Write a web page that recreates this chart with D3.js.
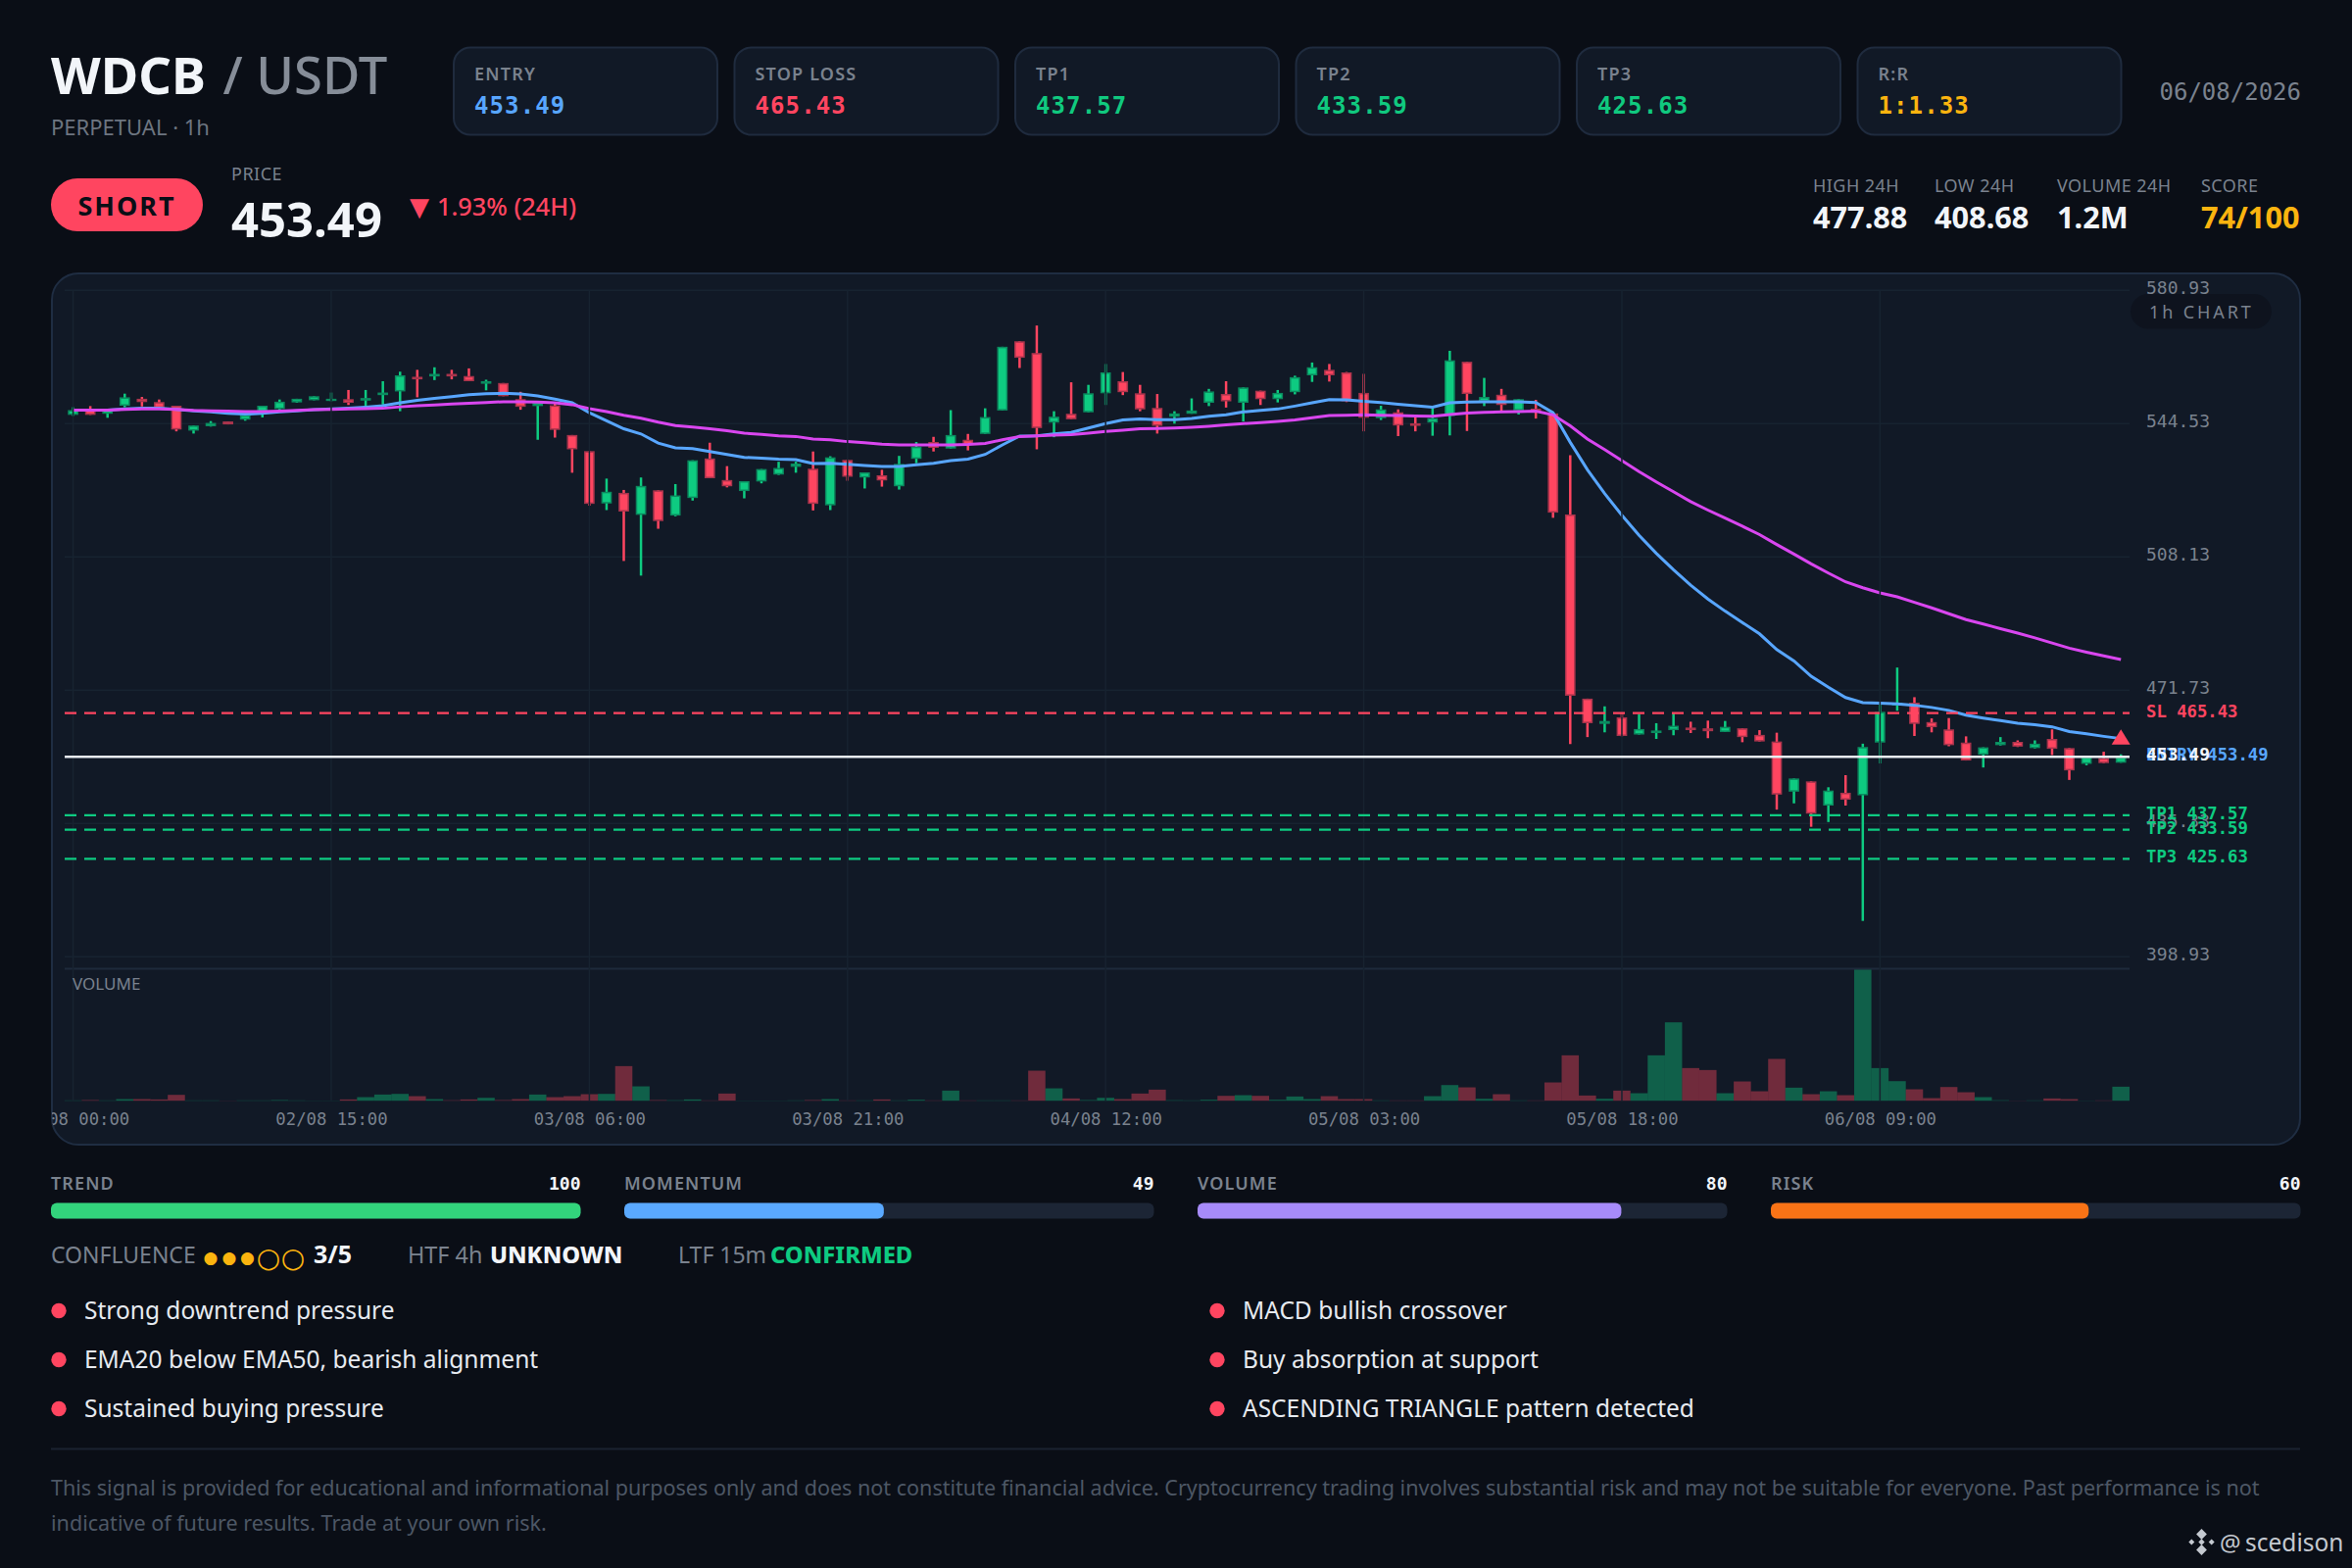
<!DOCTYPE html>
<html>
<head>
<meta charset="utf-8">
<script src="https://cdn.jsdelivr.net/npm/d3@7"></script>
<style>
  html, body { margin: 0; padding: 0; background: #0a0e16; }
  svg { display: block; }
  text { font-family: "Noto Sans", sans-serif; }
  .mono, .mono text { font-family: "DejaVu Sans Mono", monospace; }
</style>
</head>
<body>
<div id="graph"></div>
<script>
// candles, 1h
const candleOpen = [546.9,548.4,547.2,549.4,551.3,550.4,549.4,542.6,543.8,545.1,545.6,547.7,548.5,550.3,550.9,550.7,551.2,550.8,552.3,553.3,557.3,557.4,558.1,557.5,555.4,555.6,551.2,549.3,549.5,541.4,
  537.0,522.7,525.6,519.6,526.3,519.4,524.2,535.0,529.1,526.1,528.7,530.6,532.7,532.2,522.2,534.6,529.8,530.4,527.4,534.9,539.5,537.7,540.1,541.7,548.1,567.0,563.8,544.8,547.2,547.6,
  552.8,556.1,552.8,548.8,546.4,547.2,550.2,552.6,550.2,553.5,551.2,553.1,557.7,559.2,558.5,552.9,546.0,547.6,544.6,544.8,546.6,561.4,550.6,552.4,548.1,548.6,547.3,519.7,469.4,462.5,
  464.3,459.6,460.0,460.8,461.5,461.3,460.3,461.3,459.5,457.7,444.0,446.8,440.2,443.7,443.0,457.4,467.5,468.3,463.0,461.0,457.4,454.1,456.7,457.6,455.9,458.4,455.9,451.6,453.2,451.9];
const candleHigh = [549.0,549.3,548.5,552.7,551.8,551.1,549.4,544.0,545.2,545.1,547.9,549.4,551.1,551.3,552.0,553.0,553.7,553.7,556.1,558.7,559.2,559.9,559.2,559.6,556.5,555.6,553.2,550.2,550.2,541.4,
  537.0,529.5,526.4,529.8,526.3,528.0,534.5,539.3,532.9,528.8,532.1,534.1,534.1,536.9,535.6,534.7,531.2,531.9,535.7,539.5,540.9,548.2,541.7,548.7,565.5,567.0,571.3,547.9,555.8,555.1,
  560.8,558.6,555.1,552.6,547.9,551.4,554.0,556.1,554.4,553.5,553.7,557.6,561.2,560.8,558.6,558.1,549.4,548.4,546.3,548.8,564.4,561.4,557.0,554.0,551.2,551.0,547.5,535.9,469.4,467.3,
  465.4,465.2,462.7,465.4,463.1,463.4,463.3,461.3,460.8,460.1,447.6,446.8,445.2,448.5,457.1,468.5,477.9,469.8,464.0,464.1,459.1,456.1,458.9,458.0,458.0,461.0,455.9,453.4,454.9,454.2];
const candleLow = [546.6,546.9,546.1,549.0,549.2,548.4,542.4,541.8,543.7,544.3,545.3,546.2,548.2,550.2,550.9,550.6,549.6,549.3,549.7,547.9,551.7,556.4,556.6,556.1,553.6,552.0,548.3,540.1,540.7,531.1,
  522.1,520.9,507.0,503.0,515.8,519.2,523.5,529.6,527.1,524.1,528.2,530.5,531.1,520.8,520.9,528.9,526.8,527.3,526.5,533.7,536.9,537.7,537.2,541.7,548.1,559.7,537.5,540.8,545.7,547.6,
  549.6,552.3,547.9,541.8,544.5,547.2,549.3,548.9,545.1,549.6,550.3,552.5,555.9,556.0,550.4,542.4,545.5,541.1,542.4,541.2,541.3,542.5,549.3,547.9,547.0,545.9,518.8,457.0,458.9,460.2,
  459.1,459.6,458.4,459.4,460.0,458.6,460.3,457.5,457.7,439.1,440.8,434.4,435.7,440.2,408.7,451.7,466.1,459.2,460.2,456.4,452.5,450.6,456.6,456.2,455.8,454.0,447.2,451.2,451.8,451.9];
const candleClose = [548.2,546.9,548.3,551.7,550.4,548.8,542.9,544.0,544.7,544.3,546.9,549.4,550.5,551.3,552.0,551.3,550.2,551.5,553.0,557.7,556.6,558.1,557.4,556.1,556.1,552.0,549.1,550.2,542.8,537.5,
  522.6,525.9,520.5,527.5,517.9,524.9,534.5,529.6,527.4,528.8,532.1,532.4,533.6,522.6,535.3,530.0,531.2,529.0,533.5,538.2,537.9,541.4,538.7,546.3,565.5,562.5,543.3,546.4,545.7,552.8,
  558.5,553.1,548.4,543.9,547.3,548.1,553.3,550.6,554.4,551.2,552.9,557.2,559.9,557.7,550.6,546.1,548.4,544.0,543.9,546.0,561.8,552.6,551.8,549.6,551.2,547.9,520.2,470.2,462.7,463.3,
  459.2,461.1,460.7,462.0,460.8,460.5,461.7,458.9,457.7,443.2,447.6,438.0,444.3,441.8,456.2,465.8,468.3,462.5,461.6,456.7,452.5,456.1,457.6,456.3,457.1,455.7,449.8,453.4,451.8,453.4];
const ema20 = [548.2,548.2,548.2,548.5,548.7,548.7,548.4,548.0,547.7,547.3,547.1,547.3,547.7,548.0,548.3,548.5,548.7,549.0,549.4,550.2,550.9,551.4,551.9,552.4,552.7,552.8,552.6,552.1,551.2,550.2,
  547.5,545.3,543.1,541.7,539.2,537.9,537.7,536.9,536.1,535.3,535.1,534.8,534.7,533.6,533.7,533.4,533.1,532.8,532.8,533.3,533.7,534.4,534.8,536.1,538.7,541.1,541.2,541.7,542.1,543.3,
  544.5,545.5,545.8,545.6,545.6,545.9,546.5,546.9,547.7,548.1,548.5,549.3,550.2,551.1,551.0,550.6,550.3,549.8,549.4,549.0,550.2,550.4,550.5,550.5,550.5,550.3,547.5,539.4,531.9,525.4,
  519.5,514.0,509.1,504.6,500.4,496.6,493.3,490.2,487.1,482.8,479.7,475.5,472.5,469.7,468.3,468.2,468.0,467.6,467.0,466.2,464.9,464.1,463.4,462.7,462.3,461.7,460.4,459.8,459.1,458.5];
const ema50 = [548.2,548.2,548.2,548.4,548.5,548.5,548.4,548.1,548.0,547.9,547.8,547.8,547.9,548.1,548.3,548.4,548.5,548.6,548.7,549.1,549.4,549.6,549.9,550.1,550.3,550.5,550.5,550.4,550.2,549.7,
  548.6,547.8,546.8,546.0,544.9,544.0,543.6,543.1,542.6,541.9,541.6,541.2,541.0,540.3,540.1,539.6,539.3,538.9,538.7,538.7,538.7,538.7,538.8,539.1,540.1,541.0,541.2,541.4,541.5,541.9,
  542.4,542.7,543.1,543.2,543.3,543.5,543.8,544.2,544.5,544.8,545.1,545.5,546.1,546.7,546.8,546.9,546.8,546.7,546.6,546.5,547.0,547.4,547.6,547.7,547.8,547.9,546.9,543.9,540.3,537.4,
  534.4,531.4,528.6,525.9,523.2,520.9,518.7,516.5,514.2,511.5,508.9,506.2,503.7,501.3,499.7,498.3,497.2,495.7,494.2,492.6,491.0,489.8,488.5,487.3,486.0,484.6,483.2,482.1,481.1,480.1];
const volumes = [1,2,1,5,5,4,18,1,1,0.5,1,1,2,1,0.5,0.5,4,11,19,21,14,5,1.5,4,9,2,5,19,11,14,
  20,21,106,44,2,1.5,4,1,22,0.5,0.5,0.5,1,2,5,1,1,4,1,3,1,31,1,1,1,1,92,38,7,2,
  9,5,22,34,1.5,1,3,15,17,15,3,13,5,14,5,5,1,1,1,14,48,41,6,20,1,1,56,139,16,6,
  31,23,139,240,100,94,23,59,29,128,40,20,29,17,401,100,60,35,8,42,26,11,1.5,0.5,1,7,5,0.5,1,43];

const timeIndex = [0,15,30,45,60,75,90,105];
const timeLabels = ["02/08 00:00","02/08 15:00","03/08 06:00","03/08 21:00","04/08 12:00","05/08 03:00","05/08 18:00","06/08 09:00"];
const priceTicks = [580.93,544.53,508.13,471.73,435.33,398.93];

const levelNames = ["SL","TP1","TP2","TP3"];
const levelValues = [465.43,437.57,433.59,425.63];
const entryPrice = 453.49;

const cardLabels = ["ENTRY","STOP LOSS","TP1","TP2","TP3","R:R"];
const cardValues = ["453.49","465.43","437.57","433.59","425.63","1:1.33"];
const cardColors = ["#58a6ff","#ff4560","#10c97f","#10c97f","#10c97f","#fbb40f"];

const statLabels = ["HIGH 24H","LOW 24H","VOLUME 24H","SCORE"];
const statValues = ["477.88","408.68","1.2M","74/100"];
const statColors = ["#f2f5f9","#f2f5f9","#f2f5f9","#fbb40f"];
const statX = [1850,1974,2099,2246];

const scoreLabels = ["TREND","MOMENTUM","VOLUME","RISK"];
const scoreValues = [100,49,80,60];
const scoreColors = ["#32d47c","#5aa9ff","#a78bfa","#f97316"];

const confluenceMarks = ["●","●","●","○","○"];
const confluenceX = [215,234,252.5,274,299];

const reasonsLeft = ["Strong downtrend pressure","EMA20 below EMA50, bearish alignment","Sustained buying pressure"];
const reasonsRight = ["MACD bullish crossover","Buy absorption at support","ASCENDING TRIANGLE pattern detected"];

const green = "#0ecb81", red = "#ff4560", muted = "#7a828e", white = "#f2f5f9", amber = "#fbb40f";
const gridColor = "#172330";

const svg = d3.select("#graph").append("svg").attr("width", 2400).attr("height", 1600);
svg.append("rect").attr("width", 2400).attr("height", 1600).attr("fill", "#0a0e16");

function label(x, y, str, size, color, weight, opts) {
  opts = opts || {};
  return svg.append("text")
    .attr("x", x).attr("y", y)
    .attr("class", opts.mono ? "mono" : null)
    .attr("text-anchor", opts.anchor || "start")
    .style("font-size", size + "px")
    .style("font-weight", weight || 400)
    .style("letter-spacing", (opts.spacing || 0) + "px")
    .attr("fill", color)
    .text(str);
}

// header
label(52, 96, "WDCB", 52.5, white, 700);
label(227.5, 96, "/ USDT", 52.5, "#868d98", 500);
label(52, 138, "PERPETUAL · 1h", 22, "#6d7580", 400);

cardLabels.forEach((d, i) => {
  const cx = 463 + i * 286.5;
  svg.append("rect").attr("x", cx).attr("y", 48.5).attr("width", 269).attr("height", 89)
    .attr("rx", 17).attr("fill", "#111926").attr("stroke", "#1f2b3e").attr("stroke-width", 2);
  label(cx + 21, 82, d, 18, muted, 600, { spacing: 1.2 });
  label(cx + 21, 115.7, cardValues[i], 24, cardColors[i], 700, { mono: true, spacing: 1.1 });
});
label(2348, 102, "06/08/2026", 24, muted, 400, { mono: true, anchor: "end" });

svg.append("rect").attr("x", 52).attr("y", 182).attr("width", 155).attr("height", 54).attr("rx", 27).attr("fill", red);
label(129.5, 220, "SHORT", 27, "#0a0e16", 700, { anchor: "middle", spacing: 2 });
label(236, 184, "PRICE", 18, muted, 400, { spacing: 0.5 });
label(236, 241.7, "453.49", 49, white, 700);
label(418, 220, "▼", 26, red, 400).style("font-family", "'DejaVu Sans'");
label(446, 220, "1.93% (24H)", 25.3, red, 500);

statLabels.forEach((d, i) => {
  label(statX[i], 196, d, 18, muted, 400, { spacing: 0.45 });
  label(statX[i], 233, statValues[i], 30.7, statColors[i], 700);
});

// chart card
svg.append("rect").attr("x", 53).attr("y", 279).attr("width", 2294).attr("height", 889)
  .attr("rx", 27).attr("fill", "#111926").attr("stroke", "#1f2d42").attr("stroke-width", 2);
svg.append("clipPath").attr("id", "card-clip").append("rect")
  .attr("x", 53).attr("y", 279).attr("width", 2294).attr("height", 889).attr("rx", 27);

const plotLeft = 66, plotRight = 2173;
const x = d3.scaleLinear().domain([0, 119]).range([74.6, 2164.2]);
const y = d3.scaleLinear().domain([398.93, 580.93]).range([976.2, 296.2]);
const vol = d3.scaleLinear().domain([0, 401]).range([1123.2, 989.5]);
const bodyWidth = 9.2, barWidth = 17.56;

svg.append("g").selectAll("line").data(priceTicks).enter().append("line")
  .attr("x1", plotLeft).attr("x2", plotRight)
  .attr("y1", (d) => y(d)).attr("y2", (d) => y(d))
  .attr("stroke", gridColor).attr("stroke-width", 1.5);
svg.append("line").attr("x1", plotLeft).attr("x2", plotRight).attr("y1", 988.5).attr("y2", 988.5)
  .attr("stroke", "#1e2a3b").attr("stroke-width", 2);

const isUp = (i) => candleClose[i] >= candleOpen[i];

svg.append("g").selectAll("rect").data(volumes).enter().append("rect")
  .attr("x", (d, i) => x(i) - barWidth / 2)
  .attr("y", (d) => vol(d))
  .attr("width", barWidth)
  .attr("height", (d) => vol(0) - vol(d))
  .attr("fill", (d, i) => (isUp(i) ? green : red))
  .attr("opacity", 0.4);

const candles = svg.append("g").selectAll("g").data(candleOpen).enter().append("g");
candles.append("line")
  .attr("x1", (d, i) => x(i)).attr("x2", (d, i) => x(i))
  .attr("y1", (d, i) => y(candleHigh[i])).attr("y2", (d, i) => y(candleLow[i]))
  .attr("stroke", (d, i) => (isUp(i) ? green : red))
  .attr("stroke-width", 2.5);
candles.append("rect")
  .attr("x", (d, i) => x(i) - bodyWidth / 2)
  .attr("y", (d, i) => y(Math.max(candleOpen[i], candleClose[i])) + 0.75)
  .attr("width", bodyWidth)
  .attr("height", (d, i) => Math.max(0.5, Math.abs(y(candleOpen[i]) - y(candleClose[i])) - 1.5))
  .attr("fill", (d, i) => (isUp(i) ? green : red))
  .attr("stroke", (d, i) => (isUp(i) ? "#0b8a5f" : "#a8344c"))
  .attr("stroke-width", 1.5);

const emaLine = d3.line().x((d, i) => x(i)).y((d) => y(d));
svg.append("path").attr("d", emaLine(ema20)).attr("fill", "none").attr("stroke", "#58a6ff").attr("stroke-width", 3);
svg.append("path").attr("d", emaLine(ema50)).attr("fill", "none").attr("stroke", "#d946ef").attr("stroke-width", 3);

// the vertical grid sits over the marks in the original
svg.append("g").selectAll("line").data(timeIndex).enter().append("line")
  .attr("x1", (d) => x(d)).attr("x2", (d) => x(d))
  .attr("y1", 296.2).attr("y2", 1123.5)
  .attr("stroke", gridColor).attr("stroke-width", 1.5);

// axes
const yAxis = svg.append("g").attr("class", "mono").attr("transform", "translate(2190,0)")
  .call(d3.axisRight(y).tickValues(priceTicks).tickSize(0).tickPadding(0).tickFormat(d3.format(".2f")));
yAxis.select(".domain").remove();
yAxis.selectAll("text").attr("x", 0).attr("dy", null).attr("y", 0)
  .attr("transform", "translate(0,3.7)").attr("fill", muted).style("font-size", "18px");

const xAxis = svg.append("g").attr("class", "mono")
  .attr("transform", "translate(0,1147.5)")
  .call(d3.axisBottom(x).tickValues(timeIndex).tickSize(0).tickPadding(0)
    .tickFormat((d) => timeLabels[timeIndex.indexOf(d)]));
xAxis.select(".domain").remove();
xAxis.selectAll("text").attr("y", 0).attr("dy", null).attr("fill", muted).style("font-size", "17.25px");
svg.append("g").attr("clip-path", "url(#card-clip)").node().appendChild(xAxis.node());

label(74, 1009.5, "VOLUME", 17, muted, 400);

// levels
svg.append("g").selectAll("line").data(levelValues).enter().append("line")
  .attr("x1", plotLeft).attr("x2", plotRight)
  .attr("y1", (d) => y(d)).attr("y2", (d) => y(d))
  .attr("stroke", (d, i) => (i === 0 ? red : green))
  .attr("stroke-width", 2.25)
  .attr("stroke-dasharray", "12,8");
levelValues.forEach((d, i) => {
  label(2190, y(d) + 3.8, levelNames[i] + " " + d.toFixed(2), 17.25, i === 0 ? red : green, 700, { mono: true });
});
label(2190, y(entryPrice) + 4, "ENTRY " + entryPrice.toFixed(2), 17.25, "#58a6ff", 700, { mono: true });
svg.append("line").attr("x1", plotLeft).attr("x2", plotRight)
  .attr("y1", y(entryPrice)).attr("y2", y(entryPrice))
  .attr("stroke", "#e8edf3").attr("stroke-width", 2.5);
label(2190, y(entryPrice) + 4, entryPrice.toFixed(2), 18, white, 700, { mono: true });

// short signal on the last candle
const tx = x(119), ty = y(ema20[119]);
svg.append("path")
  .attr("d", `M${tx},${ty - 9.5}L${tx + 9.5},${ty + 6}L${tx - 9.5},${ty + 6}Z`)
  .attr("fill", red);

// chart tag
svg.append("rect").attr("x", 2174).attr("y", 300).attr("width", 144).attr("height", 35.5).attr("rx", 17.7)
  .attr("fill", "#0a0e16").attr("opacity", 0.45);
label(2193, 325, "1h CHART", 18, muted, 400, { spacing: 2.9 });

// scores
const scoreWidth = d3.scaleLinear().domain([0, 100]).range([0, 540.5]);
scoreLabels.forEach((d, i) => {
  const sx = 52 + i * 585;
  label(sx, 1213.5, d, 18, muted, 600, { spacing: 1.1 });
  label(sx + 540.5, 1213.5, scoreValues[i], 18, white, 700, { mono: true, anchor: "end" });
  svg.append("rect").attr("x", sx).attr("y", 1227.5).attr("width", 540.5).attr("height", 16).attr("rx", 6).attr("fill", "#1c2535");
  svg.append("rect").attr("x", sx).attr("y", 1227.5).attr("width", scoreWidth(scoreValues[i])).attr("height", 16).attr("rx", 6).attr("fill", scoreColors[i]);
});

// confluence row
label(52, 1289, "CONFLUENCE", 23, muted, 400);
confluenceMarks.forEach((d, i) => {
  const open = d === "○";
  label(confluenceX[i], open ? 1292.8 : 1288.8, d, open ? 28 : 17, amber, 400, { anchor: "middle" })
    .style("font-family", "'DejaVu Sans'");
});
label(320, 1289, "3/5", 25, white, 700);
label(416, 1289, "HTF 4h", 23.4, muted, 400);
label(500, 1289, "UNKNOWN", 23.8, white, 800);
label(692, 1289, "LTF 15m", 23, muted, 400);
label(786, 1289, "CONFIRMED", 23.8, green, 800);

// reasons
[[60, 86, reasonsLeft], [1242, 1268, reasonsRight]].forEach(([dotX, textX, rows]) => {
  rows.forEach((d, i) => {
    svg.append("circle").attr("cx", dotX).attr("cy", 1337.5 + i * 50).attr("r", 7.7).attr("fill", red);
    label(textX, 1346 + i * 50, d, 24.5, "#e6eaf0", 400);
  });
});

svg.append("line").attr("x1", 52).attr("x2", 2347).attr("y1", 1478.5).attr("y2", 1478.5)
  .attr("stroke", "#1a2230").attr("stroke-width", 2);

label(52, 1525.5, "This signal is provided for educational and informational purposes only and does not constitute financial advice. Cryptocurrency trading involves substantial risk and may not be suitable for everyone. Past performance is not", 21.55, "#4d5765", 400);
label(52, 1561.5, "indicative of future results. Trade at your own risk.", 21.55, "#4d5765", 400);

// watermark
const wmX = 2246.5, wmY = 1573.5;
[[0, -8, 5.4], [-10.2, 0, 3], [10.2, 0, 3], [0, 0, 3.2], [0, 8, 5.4]].forEach(([dx, dy, r]) => {
  svg.append("path")
    .attr("d", `M${wmX + dx},${wmY + dy - r}L${wmX + dx + r},${wmY + dy}L${wmX + dx},${wmY + dy + r}L${wmX + dx - r},${wmY + dy}Z`)
    .attr("fill", "#c4c9d0");
});
label(2265, 1582.5, "@", 24, "#c4c9d0", 400);
label(2291, 1582.5, "scedison", 24.5, "#c4c9d0", 400);
</script>
</body>
</html>
